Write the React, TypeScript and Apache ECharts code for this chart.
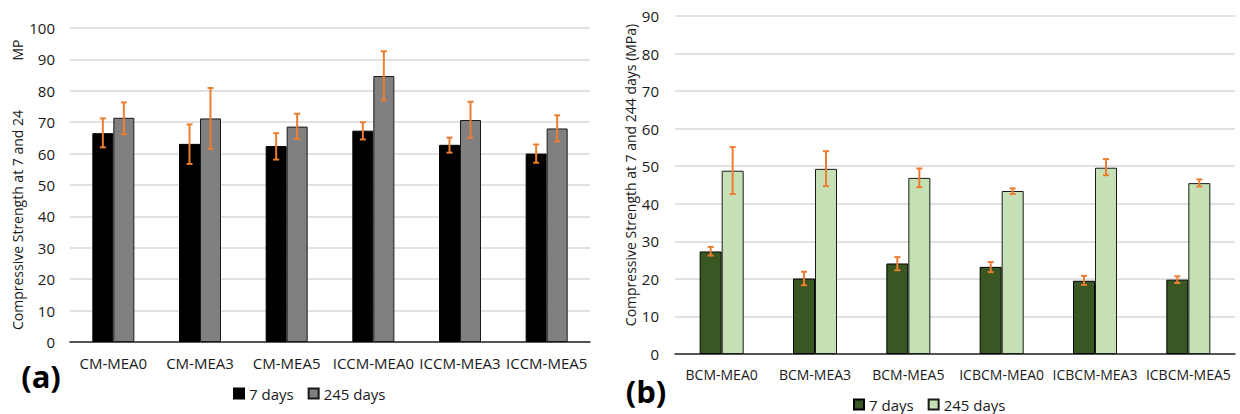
import React, { useEffect, useRef } from "react";
import * as echarts from "echarts";

const categoriesA = ["CM-MEA0", "CM-MEA3", "CM-MEA5", "ICCM-MEA0", "ICCM-MEA3", "ICCM-MEA5"];
const days7A = [66.5, 63.1, 62.4, 67.3, 62.8, 60.0];
const days245A = [71.4, 71.2, 68.6, 84.7, 70.7, 68.0];
const err7A: [number, number][] = [[62.0, 71.2], [56.7, 69.3], [58.1, 66.5], [64.5, 70.0], [60.3, 65.1], [57.1, 62.9]];
const err245A: [number, number][] = [[66.2, 76.3], [61.5, 80.9], [64.7, 72.7], [76.9, 92.6], [65.0, 76.5], [63.9, 72.2]];

const categoriesB = ["BCM-MEA0", "BCM-MEA3", "BCM-MEA5", "ICBCM-MEA0", "ICBCM-MEA3", "ICBCM-MEA5"];
const days7B = [27.3, 20.1, 24.1, 23.2, 19.5, 19.8];
const days245B = [48.8, 49.3, 46.9, 43.4, 49.6, 45.5];
const err7B: [number, number][] = [[26.2, 28.5], [18.3, 21.9], [22.3, 25.8], [21.8, 24.5], [18.4, 20.8], [18.9, 20.7]];
const err245B: [number, number][] = [[42.6, 55.1], [44.7, 54.0], [44.4, 49.4], [42.6, 44.1], [47.6, 51.9], [44.6, 46.5]];

const seriesNames = ["7 days", "245 days"];
const FONT = "Open Sans";
const ERR_COLOR = "#ED7D31";
const TXT = "#1a1a1a";

function errSeries(errs: [number, number][], offset: number) {
  return {
    type: "custom",
    z: 10,
    silent: true,
    data: errs.map((e, i) => [i, e[0], e[1]]),
    encode: { x: 0, y: [1, 2] },
    renderItem: (_params: any, api: any) => {
      const x = api.value(0);
      const pLo = api.coord([x, api.value(1)]);
      const pHi = api.coord([x, api.value(2)]);
      const cx = pLo[0] + offset;
      const cap = 3;
      const style = { stroke: ERR_COLOR, lineWidth: 2 };
      return {
        type: "group",
        children: [
          { type: "line", shape: { x1: cx, y1: pLo[1], x2: cx, y2: pHi[1] }, style },
          { type: "line", shape: { x1: cx - cap, y1: pHi[1], x2: cx + cap, y2: pHi[1] }, style },
          { type: "line", shape: { x1: cx - cap, y1: pLo[1], x2: cx + cap, y2: pLo[1] }, style },
        ],
      };
    },
  };
}

function buildOption(cfg: any) {
  return {
    animation: false,
    backgroundColor: "#ffffff",
    textStyle: { fontFamily: FONT },
    grid: cfg.grid,
    legend: {
      data: seriesNames,
      left: cfg.legendLeft,
      top: cfg.legendTop,
      icon: "rect",
      itemWidth: 10,
      itemHeight: 10,
      itemGap: 14,
      selectedMode: false,
      textStyle: { fontFamily: FONT, fontSize: 15, color: TXT },
    },
    xAxis: {
      type: "category",
      data: cfg.categories,
      axisTick: { show: false },
      axisLine: { show: true, lineStyle: { color: "#262626", width: 1.5 } },
      axisLabel: { fontFamily: FONT, fontSize: cfg.xFont, color: TXT, margin: cfg.xMargin, interval: 0 },
    },
    yAxis: {
      type: "value",
      min: 0,
      max: cfg.max,
      interval: 10,
      axisLine: { show: false },
      axisTick: { show: false },
      splitLine: { lineStyle: { color: "#d9d9d9", width: 1.5 } },
      axisLabel: { fontFamily: FONT, fontSize: 15, color: TXT, margin: cfg.yMargin },
    },
    series: [
      {
        name: seriesNames[0],
        type: "bar",
        data: cfg.d7,
        barWidth: cfg.barWidth,
        barGap: "0%",
        itemStyle: { color: cfg.c7, borderColor: "#000000", borderWidth: 1 },
      },
      {
        name: seriesNames[1],
        type: "bar",
        data: cfg.d245,
        barWidth: cfg.barWidth,
        barGap: "0%",
        itemStyle: { color: cfg.c245, borderColor: "#1a1a1a", borderWidth: 1 },
      },
      errSeries(cfg.e7, -cfg.barWidth / 2),
      errSeries(cfg.e245, cfg.barWidth / 2),
    ],
    graphic: cfg.graphic,
  };
}

const optA = () =>
  buildOption({
    grid: { left: 70, right: 30, top: 28, bottom: 72 },
    categories: categoriesA,
    max: 100,
    d7: days7A,
    d245: days245A,
    e7: err7A,
    e245: err245A,
    c7: "#000000",
    c245: "#808080",
    barWidth: 21,
    xFont: 15,
    xMargin: 13,
    yMargin: 15,
    legendLeft: 228,
    legendTop: 381,
    graphic: [
      {
        type: "text",
        x: 17,
        y: 220,
        rotation: Math.PI / 2,
        style: { text: "Compressive Strength at 7 and 24", fontFamily: FONT, fontSize: 14, fill: TXT, align: "center", verticalAlign: "middle" },
      },
      {
        type: "text",
        x: 17,
        y: 50,
        rotation: Math.PI / 2,
        style: { text: "MP", fontFamily: FONT, fontSize: 14, fill: TXT, align: "center", verticalAlign: "middle" },
      },
      {
        type: "text",
        x: 41,
        y: 376,
        style: { text: "(a)", fontFamily: FONT, fontSize: 31, fontWeight: "bold", fill: "#000", align: "center", verticalAlign: "middle" },
      },
    ],
  });

const optB = () =>
  buildOption({
    grid: { left: 55, right: 5, top: 16, bottom: 60 },
    categories: categoriesB,
    max: 90,
    d7: days7B,
    d245: days245B,
    e7: err7B,
    e245: err245B,
    c7: "#385723",
    c245: "#C5E0B4",
    barWidth: 22,
    xFont: 14,
    xMargin: 13,
    yMargin: 16,
    legendLeft: 228,
    legendTop: 392,
    graphic: [
      {
        type: "text",
        x: 10,
        y: 175,
        rotation: Math.PI / 2,
        style: { text: "Compressive Strength at 7 and 244 days (MPa)", fontFamily: FONT, fontSize: 14, fill: TXT, align: "center", verticalAlign: "middle" },
      },
      {
        type: "text",
        x: 26,
        y: 391,
        style: { text: "(b)", fontFamily: FONT, fontSize: 31, fontWeight: "bold", fill: "#000", align: "center", verticalAlign: "middle" },
      },
    ],
  });

function Panel({ left, option }: { left: number; option: () => any }) {
  const ref = useRef<HTMLDivElement>(null);
  useEffect(() => {
    if (!ref.current) return;
    const chart = echarts.init(ref.current, undefined, { renderer: "svg" });
    chart.setOption(option());
    return () => chart.dispose();
  }, [option]);
  return <div ref={ref} style={{ position: "absolute", left, top: 0, width: 620, height: 414 }} />;
}

export default function App() {
  return (
    <div style={{ position: "fixed", left: 0, top: 0, width: 1240, height: 414, background: "#fff", overflow: "hidden" }}>
      <Panel left={0} option={optA} />
      <Panel left={620} option={optB} />
    </div>
  );
}
